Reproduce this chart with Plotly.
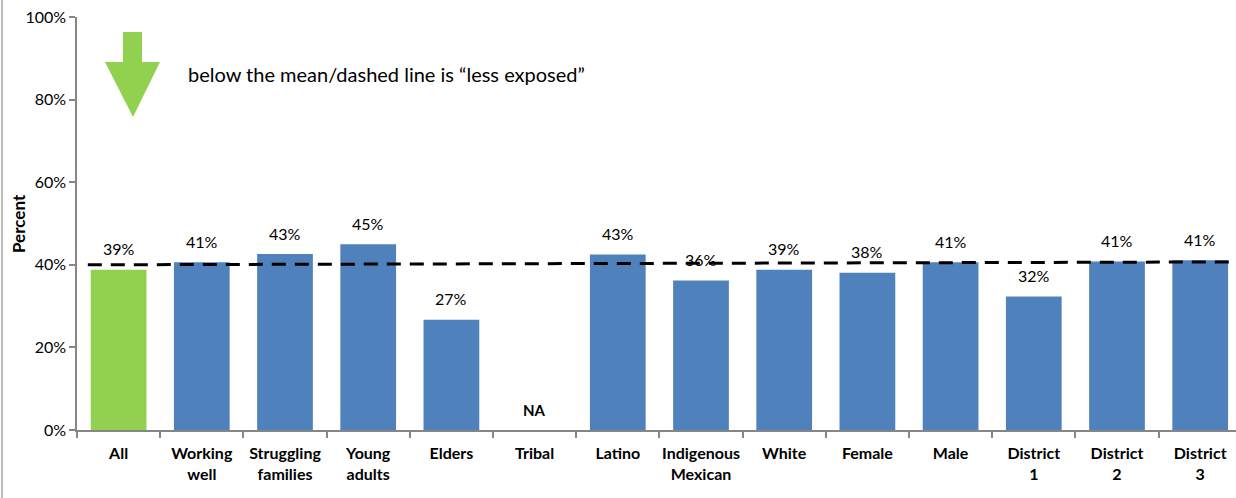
import plotly.graph_objects as go

# Share of each group, percent (None = not available)
categories = ["All", "Working<br>well", "Struggling<br>families", "Young<br>adults", "Elders",
              "Tribal", "Latino", "Indigenous<br>Mexican", "White", "Female", "Male",
              "District<br>1", "District<br>2", "District<br>3"]
values = [38.8, 40.6, 42.6, 45.0, 26.7, None, 42.5, 36.2, 38.8, 38.1, 40.6, 32.3, 40.8, 41.1]
value_labels = ["39%", "41%", "43%", "45%", "27%", "NA", "43%", "36%", "39%", "38%",
                "41%", "32%", "41%", "41%"]
y_ticks = [0, 20, 40, 60, 80, 100]
y_tick_labels = ["0%", "20%", "40%", "60%", "80%", "100%"]

# Mean reference line (start / end levels, percent)
mean_start, mean_end = 40.0, 40.7

GREEN = "#92D050"
BLUE = "#4F81BD"
AXIS = "#868686"
FONT = "Lato"

x = list(range(len(categories)))
bar_colors = [GREEN] + [BLUE] * (len(categories) - 1)

fig = go.Figure()
fig.add_trace(go.Bar(
    x=x, y=[v if v is not None else 0 for v in values],
    marker=dict(color=bar_colors, line=dict(width=0)),
    width=0.67, hoverinfo="skip", showlegend=False,
))

# dashed mean line
fig.add_trace(go.Scatter(
    x=[-0.37, len(categories) - 0.5], y=[mean_start, mean_end],
    mode="lines", line=dict(color="black", width=3, dash="14px,9px"),
    hoverinfo="skip", showlegend=False,
))

annotations = []
for i, (v, lab) in enumerate(zip(values, value_labels)):
    if v is None:
        annotations.append(dict(x=i, y=0, text="<b>NA</b>", showarrow=False, yshift=20,
                                font=dict(family=FONT, size=15, color="black")))
    else:
        annotations.append(dict(x=i, y=v, text=lab, showarrow=False, yshift=21,
                                font=dict(family=FONT, size=16, color="black")))

annotations.append(dict(
    xref="paper", yref="paper", x=(186 - 77) / 1159, y=(430 - 74) / 413,
    xanchor="left", yanchor="middle", showarrow=False,
    text="below the mean/dashed line is \u201cless exposed\u201d",
    font=dict(family=FONT, size=20, color="black"),
))

# y-axis title placed by pixel position
annotations.append(dict(
    xref="paper", yref="paper", x=(18 - 77) / 1159, y=(430 - 224) / 413,
    xanchor="center", yanchor="middle", showarrow=False, textangle=-90,
    text="<b>Percent</b>", font=dict(family=FONT, size=17, color="black"),
))

# green down arrow (pixel layout converted to paper coords)
def px(xp):
    return (xp - 77) / 1159

def py(yp):
    return (430 - yp) / 413

arrow_pts = [(123, 32), (142, 32), (142, 62), (160, 62), (133, 117), (105, 62), (123, 62)]
path = "M " + " L ".join(f"{px(a):.5f},{py(b):.5f}" for a, b in arrow_pts) + " Z"

shapes = [
    dict(type="path", xref="paper", yref="paper", path=path,
         fillcolor=GREEN, line=dict(width=0)),
    dict(type="line", xref="paper", yref="paper", x0=px(2), x1=px(2), y0=py(0), y1=py(498),
         line=dict(color="#A6A6A6", width=1.5)),
]

fig.update_layout(
    width=1236, height=498,
    margin=dict(l=77, r=0, t=17, b=68),
    paper_bgcolor="white", plot_bgcolor="white",
    font=dict(family=FONT, size=15, color="black"),
    bargap=0.33,
    annotations=annotations,
    shapes=shapes,
    xaxis=dict(
        range=[-0.5, -0.5 + 1159 / 83.2],
        tickvals=x, ticktext=[f"<b>{c}</b>" for c in categories],
        ticks="", showgrid=False, zeroline=False,
        showline=True, linecolor=AXIS, linewidth=1.5,
        tickfont=dict(family=FONT, size=16, color="black"),
        ticklabelstandoff=8,
        minor=dict(tickvals=[i - 0.5 for i in range(len(categories) + 1)],
                   ticks="outside", ticklen=6, tickcolor=AXIS, tickwidth=1.5, showgrid=False),
    ),
    yaxis=dict(
        range=[0, 100], tickvals=y_ticks, ticktext=y_tick_labels,
        ticks="outside", ticklen=6, tickcolor=AXIS, tickwidth=1.5,
        showgrid=False, zeroline=False, showline=True, linecolor=AXIS, linewidth=1.5,
        tickfont=dict(family=FONT, size=16, color="black"),
    ),
)

fig.write_html("out.html")
